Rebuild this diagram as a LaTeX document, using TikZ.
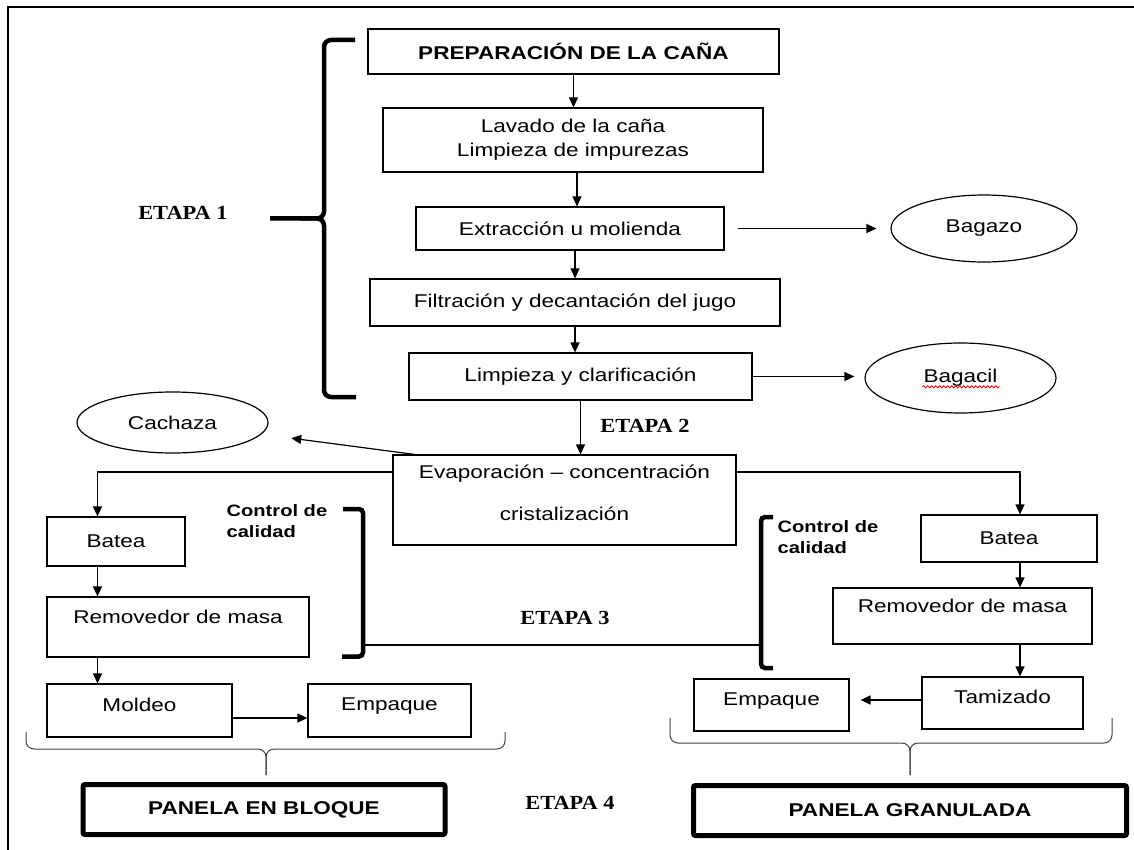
\documentclass[tikz,border=0pt]{standalone}
\usepackage{fontspec}
\setmainfont{Liberation Sans}[FakeStretch=1.22]
\newfontfamily\etapafont{Liberation Serif}[FakeStretch=1.12]
\usepackage{tikz}
\usetikzlibrary{arrows.meta,shapes,decorations.pathmorphing}
\newcommand{\boxfont}{\fontsize{18.5}{24}\selectfont}
\newcommand{\stagefont}{\etapafont\fontsize{20}{24}\selectfont\bfseries}
\newcommand{\notefont}{\fontsize{16.5}{21}\selectfont\bfseries}
\tikzset{
  every picture/.style = {
    x = 1pt,
    y = -1pt,
    line width = 1.2pt,
    >={Triangle[length=10pt,width=9pt]},
  }
  ,
  process/.style = {
    rectangle,
    draw,
    align = center,
    font = \boxfont,
    inner sep = 2pt
  }
  ,
  boxsize/.style 2 args = {
    minimum width = #1pt,
    minimum height = #2pt
  }
  , % by-products
  waste/.style = {
    ellipse,
    draw,
    font = \boxfont,
    inner sep = 0pt
  }
  , % final products
  product/.style = {
    process,
    line width = 5pt,
    rounded corners = 2pt,
    font = \boxfont\bfseries
  }
  , % stage labels
  stage/.style = {
    font = \stagefont
  }
  ,
  quality/.style = {
    font = \notefont,
    align = left,
    anchor = west,
    inner sep = 0pt
  }
  ,
  bracket/.style = {
    line width = 4.5pt,
    rounded corners = 7pt
  }
  ,
  cap-brace/.style = {
    line width = 1pt,
    black!75,
    rounded corners = 8pt
  }
}

\begin{document}
\begin{tikzpicture}
\useasboundingbox (0,0) rectangle (1134,850);
% frame
\draw[line width=2.5pt] (7,7) -- (1134,7);
\draw[line width=1.5pt] (8,7) -- (8,850);

% etapa 1
\node[process, boxsize={411}{45}, font=\boxfont\bfseries] at (573.5,51.5) (prep) {PREPARACIÓN DE LA CAÑA};
\node[process, boxsize={380}{64}] at (573,140) (lav) {Lavado de la caña\\Limpieza de impurezas};
\node[process, boxsize={308}{43}] at (570,228.5) (ext) {Extracción u molienda};
\node[process, boxsize={410}{47}] at (575,302.5) (filt) {Filtración y decantación del jugo};
\node[process, boxsize={343}{47}] at (580.5,376.5) (limp) {Limpieza y clarificación};
\node[process, boxsize={343}{90}, text depth=14pt] at (564.5,500) (evap) {Evaporación – concentración\\[18pt]cristalización};

\node[waste, boxsize={186}{67}] at (984,228.5) (bagazo) {Bagazo};
\node[waste, boxsize={191}{70}] at (960.5,378) (bagacil) {Bagacil};
\node[waste, boxsize={191}{61}] at (172.5,422.5) (cachaza) {Cachaza};

% etapa 3, left and right lines
\node[process, boxsize={138}{49}] at (116,541.5) (batL) {Batea};
\node[process, boxsize={262}{60}, text depth=20pt] at (178,627) (remL) {Removedor de masa};
\node[process, boxsize={185}{53}, text depth=12pt] at (139.5,710.5) (molL) {Moldeo};
\node[process, boxsize={163}{53}, text depth=12pt] at (389.5,710.5) (empL) {Empaque};
\node[process, boxsize={176}{47}] at (1009,538.5) (batR) {Batea};
\node[process, boxsize={259}{56}, text depth=20pt] at (962.5,616) (remR) {Removedor de masa};
\node[process, boxsize={161}{52}, text depth=12pt] at (1002.5,703) (tamR) {Tamizado};
\node[process, boxsize={155}{52}, text depth=12pt] at (771.5,705) (empR) {Empaque};

% etapa 4
\node[product, boxsize={362}{50}] at (264,809.5) (panB) {PANELA EN BLOQUE};
\node[product, boxsize={433}{50}] at (910,810.5) (panG) {PANELA GRANULADA};

\node[stage] at (183,213) (etapa1) {ETAPA 1};
\node[stage] at (645,426) (etapa2) {ETAPA 2};
\node[stage] at (565,618) (etapa3) {ETAPA 3};
\node[stage] at (570,803) (etapa4) {ETAPA 4};
\node[quality] at (226,521.5) (calL) {Control de\\calidad};
\node[quality] at (777,537.5) (calR) {Control de\\calidad};

\coordinate (colL) at (97.5,0);
\coordinate (colR) at (1020,0);

% main line
\draw[->] (prep) -- (prep |- lav.north);
\draw[->] ([xshift=4pt]lav.south) -- ([xshift=4pt]lav.south |- ext.north);
\draw[->] (ext.south -| filt) -- (filt.north);
\draw[->] (filt) -- (filt |- limp.north);
\draw[->] (limp) -- (limp |- evap.north);
\draw[->, shorten <=13pt, shorten >=14pt] (ext) -- (ext -| bagazo.west);
\draw[->, shorten >=10pt] (limp) -- (limp -| bagacil.west);
\draw[->, shorten >=30pt] ([xshift=22pt]evap.north west) -- (cachaza);
\draw[red, line width=0.8pt, decorate, decoration={snake, amplitude=1.2pt, segment length=4pt}]
  ([xshift=-38pt,yshift=-4pt]bagacil.base) -- ([xshift=39pt,yshift=-4pt]bagacil.base);

% branches
\draw[->] ([yshift=28pt]evap.west) -| (batL.north -| colL);
\draw[->] (batL.south -| colL) -- (remL.north -| colL);
\draw[->] (remL.south -| colL) -- (molL.north -| colL);
\draw[->] ([yshift=-7.5pt]molL.east) -- ([yshift=-7.5pt]molL.east -| empL.west);
\draw[->] ([yshift=28pt]evap.east) -| (batR.north -| colR);
\draw[->] (batR.south -| colR) -- (remR.north -| colR);
\draw[->] (remR.south -| colR) -- (tamR.north -| colR);
\draw[->, shorten >=11pt] ([yshift=3pt]tamR.west) -- ([yshift=3pt]tamR.west -| empR.east);

% brackets
\draw[bracket] (355,40) -| (324,218.5) -- (270,218.5);
\draw[bracket] (356,397) -| (324,218.5) -- (300,218.5);
\draw[bracket, rounded corners=4pt] (343,509) -| (363,656.5) -- (342,656.5);
\draw[bracket, rounded corners=4pt] (773,517) -| (761,668) -- (773,668);
\draw[line width=2pt] (363,645) -- (761,645);
\draw[cap-brace] (26,732) |- (266,749) -- (266,775);
\draw[cap-brace] (505,732) |- (266,749) -- (266,775);
\draw[cap-brace] (670,718) |- (910,743) -- (910,775);
\draw[cap-brace] (1112,718) |- (910,743) -- (910,775);
\end{tikzpicture}
\end{document}
